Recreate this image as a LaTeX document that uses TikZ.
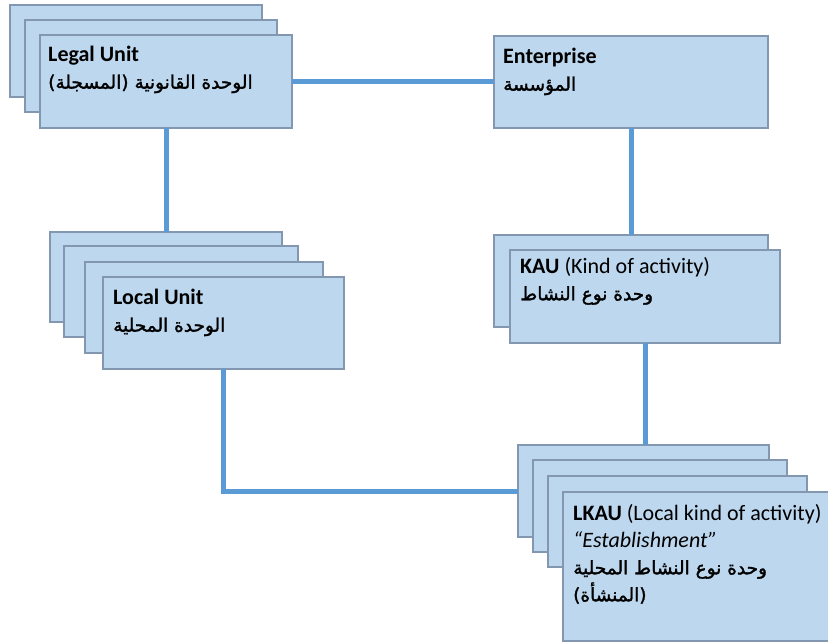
\documentclass[tikz,border=0pt]{standalone}
\usepackage{fontspec}
\setmainfont{Carlito}
\newfontfamily\arabicfont[Script=Arabic,FakeBold=1.6]{DejaVu Sans}
\TeXXeTstate=1
\definecolor{boxfill}{HTML}{BDD7EE}
\definecolor{boxline}{HTML}{8497B0}
\definecolor{conncol}{HTML}{5B9BD5}
\newcommand\ubox[5]{\node[unitbox,minimum width=#4pt,minimum height=#5pt] (#1) at (#2,#3) {};}
\newcommand\ar[1]{{\arabicfont\fontsize{18.5}{27}\selectfont\beginR #1\endR}}
\begin{document}
\begin{tikzpicture}[x=1pt,y=-1pt,
  unitbox/.style={draw=boxline, fill=boxfill, line width=1.1pt, rectangle, anchor=north west, inner sep=0pt, outer sep=0pt},
  boxtext/.style={anchor=north west, align=left, inner sep=0pt, font=\fontsize{22}{27}\selectfont},
  conn/.style={draw=conncol, line width=5pt}]
\useasboundingbox (0,0) rectangle (828,644);
\fill[white] (0,0) rectangle (828,644);
% Legal unit stack
\ubox{lg1}{10}{5}{252}{92}
\ubox{lg2}{25}{20}{252}{92}
\ubox{lg3}{40}{35}{252}{93}
% Enterprise
\ubox{ent}{494}{36}{274}{92}
% Local unit stack
\ubox{lo1}{50}{232}{232}{90}
\ubox{lo2}{64}{246}{234}{91}
\ubox{lo3}{85}{262}{238}{91}
\ubox{lo4}{103}{277}{241}{92}
% KAU stack
\ubox{ka1}{494}{235}{274}{92}
\ubox{ka2}{510}{250}{270}{93}
% LKAU stack
\ubox{lk1}{518}{445}{251}{92}
\ubox{lk2}{533}{460}{254}{92}
\ubox{lk3}{548}{476}{259}{91}
\ubox{lk4}{563}{492}{267}{149}
% texts
\node[boxtext] (lgT) at ([shift={(8,11)}]lg3.north west) {\textbf{Legal Unit}\\ \ar{الوحدة القانونية (المسجلة)}};
\node[boxtext] (entT) at ([shift={(9,12)}]ent.north west) {\textbf{Enterprise}\\ \ar{المؤسسة}};
\node[boxtext] (loT) at ([shift={(10,12)}]lo4.north west) {\textbf{Local Unit}\\ \ar{الوحدة المحلية}};
\node[boxtext] (kaT) at ([shift={(10,7)}]ka2.north west) {\textbf{KAU} (Kind of activity)\\ \ar{وحدة نوع النشاط}};
\node[boxtext] (lkT) at ([shift={(10,12)}]lk4.north west) {\textbf{LKAU} (Local kind of activity)\\ \textit{“Establishment”}\\ \ar{وحدة نوع النشاط المحلية}\\ \ar{(المنشأة)}};
% connectors
\draw[conn] (lg3.east) -- (lg3.east -| ent.west);
\draw[conn] (lg3.south) -- (lo1.north);
\draw[conn] (ent.south) -- (ka1.north);
\draw[conn] (ka2.south) -- (ka2.south |- lk1.north);
\draw[conn] (lo4.south) |- (lk1.west);
\end{tikzpicture}
\end{document}
